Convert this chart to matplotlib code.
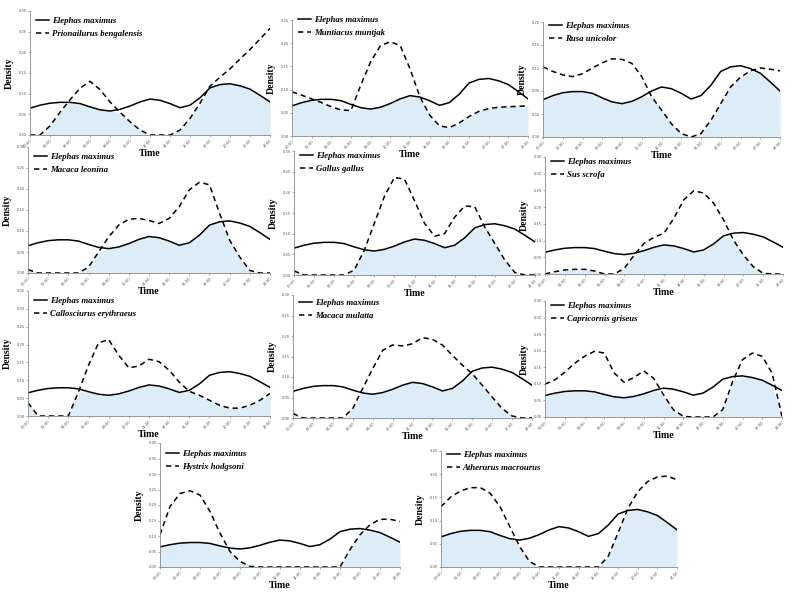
import matplotlib

matplotlib.use("Agg")
import matplotlib.pyplot as plt
import numpy as np

HOURS = list(range(25))
TIME_LABELS = [f"{h:02d}:00" for h in range(0, 25, 2)]

ELEPHAS = [0.065, 0.072, 0.077, 0.079, 0.079, 0.076, 0.068, 0.061, 0.058, 0.062, 0.070, 0.080,
           0.087, 0.084, 0.076, 0.066, 0.072, 0.090, 0.114, 0.122, 0.124, 0.119, 0.111, 0.096, 0.080]

PRIONAILURUS = [0, 0, 0.022, 0.055, 0.085, 0.113, 0.130, 0.110, 0.080, 0.055, 0.032, 0.012,
                0, 0, 0, 0.012, 0.040, 0.077, 0.118, 0.140, 0.160, 0.184, 0.207, 0.232, 0.258]
MUNTIACUS = [0.095, 0.088, 0.080, 0.072, 0.063, 0.056, 0.055, 0.110, 0.160, 0.195, 0.203, 0.195,
             0.145, 0.085, 0.045, 0.022, 0.018, 0.028, 0.042, 0.053, 0.059, 0.062, 0.063, 0.064, 0.065]
RUSA = [0.122, 0.114, 0.108, 0.105, 0.110, 0.120, 0.129, 0.136, 0.135, 0.128, 0.105, 0.070,
        0.047, 0.023, 0.006, 0, 0.006, 0.029, 0.058, 0.087, 0.104, 0.115, 0.120, 0.118, 0.115]
MACACA_LEONINA = [0.008, 0, 0, 0, 0, 0, 0.014, 0.050, 0.086, 0.114, 0.128, 0.130,
                  0.125, 0.118, 0.130, 0.158, 0.198, 0.216, 0.210, 0.142, 0.078, 0.038, 0.006, 0, 0]
GALLUS = [0.010, 0, 0, 0, 0, 0, 0.012, 0.060, 0.125, 0.190, 0.236, 0.232,
          0.180, 0.125, 0.094, 0.100, 0.140, 0.167, 0.165, 0.116, 0.076, 0.036, 0.006, 0, 0]
SUS = [0, 0.007, 0.012, 0.014, 0.014, 0.009, 0, 0, 0.017, 0.057, 0.092, 0.110,
       0.122, 0.167, 0.222, 0.249, 0.242, 0.212, 0.162, 0.102, 0.057, 0.022, 0.002, 0, 0]
CALLOSCIURUS = [0.037, 0, 0, 0, 0, 0.067, 0.142, 0.205, 0.214, 0.170, 0.135, 0.140,
                0.159, 0.152, 0.128, 0.095, 0.069, 0.058, 0.044, 0.030, 0.022, 0.022, 0.030, 0.044, 0.063]
MACACA_MULATTA = [0.011, 0, 0, 0, 0, 0, 0.023, 0.072, 0.120, 0.165, 0.178, 0.176,
                  0.181, 0.196, 0.192, 0.178, 0.153, 0.129, 0.108, 0.080, 0.051, 0.023, 0.005, 0, 0]
CAPRICORNIS = [0.099, 0.112, 0.135, 0.162, 0.183, 0.198, 0.193, 0.133, 0.105, 0.119, 0.139, 0.117,
               0.067, 0.022, 0.002, 0, 0, 0, 0.022, 0.107, 0.173, 0.193, 0.183, 0.132, 0.002]
HYSTRIX = [0.104, 0.195, 0.237, 0.246, 0.232, 0.179, 0.109, 0.050, 0.018, 0.002, 0, 0,
           0, 0, 0, 0, 0, 0, 0, 0.056, 0.104, 0.136, 0.154, 0.154, 0.147]
ATHERURUS = [0.130, 0.151, 0.164, 0.171, 0.171, 0.159, 0.130, 0.087, 0.044, 0.012, 0, 0,
             0, 0, 0, 0, 0, 0.023, 0.073, 0.126, 0.162, 0.184, 0.194, 0.196, 0.188]

SPECIES = ["Prionailurus bengalensis", "Muntiacus muntjak", "Rusa unicolor",
           "Macaca leonina", "Gallus gallus", "Sus scrofa",
           "Callosciurus erythraeus", "Macaca mulatta", "Capricornis griseus",
           "Hystrix hodgsoni", "Atherurus macrourus"]
SERIES = [PRIONAILURUS, MUNTIACUS, RUSA, MACACA_LEONINA, GALLUS, SUS,
          CALLOSCIURUS, MACACA_MULATTA, CAPRICORNIS, HYSTRIX, ATHERURUS]
YMAX = [0.30, 0.25, 0.20, 0.30, 0.30, 0.35, 0.35, 0.30, 0.35, 0.40, 0.25]
YSTEP = [0.05, 0.05, 0.04, 0.05, 0.05, 0.05, 0.05, 0.05, 0.05, 0.05, 0.05]

# panel boxes in pixels: left, top, right, bottom
BOXES = [(30, 11, 270, 135), (292, 20, 528, 136), (543, 22, 780, 137),
         (28, 147, 270, 273), (294, 151, 535, 275), (545, 157, 783, 274),
         (28, 291, 270, 416), (293, 295, 532, 418), (545, 301, 782, 417),
         (160, 443, 400, 567), (441, 451, 677, 567)]
# gap (px) between panel top and the first legend row
LEGEND_DY = [11, 1, 5, 11, 6, 6, 11, 9, 6, 12, 5]

W, H = 798, 594
SERIF = "Liberation Serif"
FILL = "#dcedf8"
GREY = "#888888"

fig = plt.figure(figsize=(W / 100, H / 100), dpi=100)
x = np.array(HOURS)
ele = np.array(ELEPHAS)
for name, vals, ymax, step, (l, t, r, b), dy in zip(SPECIES, SERIES, YMAX, YSTEP, BOXES, LEGEND_DY):
    ax = fig.add_axes([l / W, 1 - b / H, (r - l) / W, (b - t) / H])
    ax.patch.set_visible(False)
    other = np.array(vals)
    ax.fill_between(x, 0, np.minimum(ele, other), color=FILL, lw=0)
    ax.plot(x, ele, color="black", lw=1.1, label="Elephas maximus")
    ax.plot(x, other, color="black", lw=1.1, dashes=(3.5, 2.5), label=name)
    ax.set_xlim(0, 24)
    ax.set_ylim(0, ymax)
    ax.set_yticks(np.arange(0, ymax + 1e-9, step))
    ax.yaxis.set_major_formatter(matplotlib.ticker.FormatStrFormatter("%.2f"))
    ax.set_xticks(range(0, 25, 2))
    ax.set_xticklabels(TIME_LABELS, rotation=45, ha="right", rotation_mode="anchor")
    ax.tick_params(labelsize=2.6, length=1.5, width=0.5, colors=GREY, pad=1,
                   labelcolor="#555555")
    for side in ("top", "right"):
        ax.spines[side].set_visible(False)
    for side in ("left", "bottom"):
        ax.spines[side].set_color(GREY)
        ax.spines[side].set_linewidth(0.6)
    ax.set_ylabel("Density", family=SERIF, weight="bold", fontsize=7, labelpad=3)
    ax.set_xlabel("Time", family=SERIF, weight="bold", fontsize=7, labelpad=0)
    anchor_y = 1 - (dy - 5) / (b - t)
    ax.legend(loc="upper left", bbox_to_anchor=(6 / (r - l), anchor_y), frameon=False,
              handlelength=1.5, handletextpad=0.3, labelspacing=0.5, borderaxespad=0,
              borderpad=0,
              prop={"family": SERIF, "style": "italic", "weight": "bold", "size": 6.3})

fig.savefig("out.png", dpi=100)
